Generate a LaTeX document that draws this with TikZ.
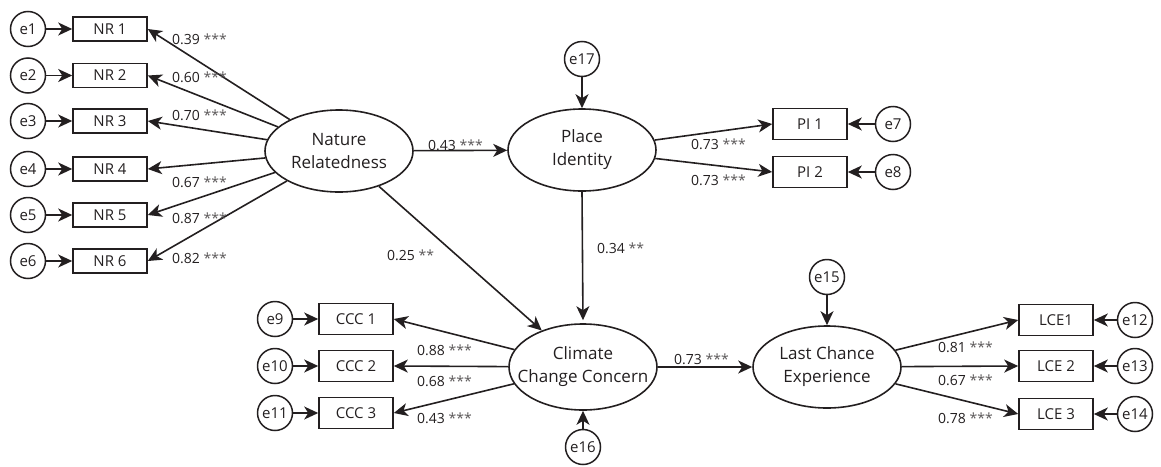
\documentclass[tikz,border=0pt]{standalone}
\usepackage{fontspec}
\setmainfont{Open Sans}
\usetikzlibrary{arrows.meta,shapes.geometric}
\definecolor{ink}{HTML}{231F20}
\tikzset{
  lat/.style={ellipse,draw=ink,line width=1.6pt,minimum width=148pt,minimum height=82pt,inner sep=0pt},
  lattext/.style={align=center,font=\fontsize{17}{23}\selectfont,text=ink},
  obs/.style={rectangle,draw=ink,line width=1.6pt,minimum width=74pt,minimum height=31pt,inner sep=0pt,font=\fontsize{15}{17}\selectfont,text=ink},
  obsnr/.style={obs,minimum height=24pt},
  err/.style={circle,draw=ink,line width=1.5pt,minimum size=35pt,inner sep=0pt,font=\fontsize{15}{17}\selectfont,text=ink},
  arr/.style={draw=ink,line width=1.6pt,-{Stealth[length=14pt,width=13pt,inset=4pt]}},
  coef/.style={anchor=west,inner sep=0pt,font=\fontsize{14}{16}\selectfont,text=ink},
}
\newcommand{\stars}[1]{{\color{ink!75}#1}}
\begin{document}
\begin{tikzpicture}[x=1pt,y=-1pt]
\useasboundingbox (0,0) rectangle (1161,466);
% latent variables
\node[lat,label={[lattext]center:Nature\\Relatedness}] (nr) at (339,151) {};
\node[lat,label={[lattext]center:Place\\Identity}] (pi) at (582,150) {};
\node[lat,minimum height=86pt,label={[lattext]center:Climate\\Change Concern}] (ccc) at (583,367) {};
\node[lat,label={[lattext]center:Last Chance\\Experience}] (lce) at (827,367) {};
% NR indicators
\foreach \i/\y in {1/29,2/75.5,3/121,4/169,5/215,6/261}{
  \node[obsnr] (nr\i) at (110,\y) {NR \i};
  \node[err] (e\i) at (28,\y) {e\i};
  \draw[arr] (e\i) -- (nr\i);
  \draw[arr] (nr) -- (nr\i.east);
}
% PI indicators
\node[obs] (pi1) at (810,124) {PI 1};
\node[obs] (pi2) at (810,172) {PI 2};
\node[err] (e7) at (893,124) {e7};
\node[err] (e8) at (893,172) {e8};
\draw[arr] (e7) -- (pi1);
\draw[arr] (e8) -- (pi2);
\draw[arr] (pi) -- (pi1.west);
\draw[arr] (pi) -- (pi2.west);
% CCC indicators
\node[obs] (ccc1) at (356,319) {CCC 1};
\node[obs] (ccc2) at (356,366) {CCC 2};
\node[obs] (ccc3) at (356,413) {CCC 3};
\node[err] (e9) at (275,319) {e9};
\node[err] (e10) at (275,366) {e10};
\node[err] (e11) at (275,413) {e11};
\draw[arr] (e9) -- (ccc1);
\draw[arr] (e10) -- (ccc2);
\draw[arr] (e11) -- (ccc3);
\draw[arr] (ccc) -- (ccc1.east);
\draw[arr] (ccc) -- (ccc2.east);
\draw[arr] (ccc) -- (ccc3.east);
% LCE indicators
\node[obs] (lce1) at (1056,320) {LCE1};
\node[obs] (lce2) at (1056,366) {LCE 2};
\node[obs] (lce3) at (1056,414) {LCE 3};
\node[err] (e12) at (1135,320) {e12};
\node[err] (e13) at (1135,366) {e13};
\node[err] (e14) at (1135,414) {e14};
\draw[arr] (e12) -- (lce1);
\draw[arr] (e13) -- (lce2);
\draw[arr] (e14) -- (lce3);
\draw[arr] (lce) -- (lce1.west);
\draw[arr] (lce) -- (lce2.west);
\draw[arr] (lce) -- (lce3.west);
% disturbances
\node[err] (e17) at (582,59) {e17};
\node[err] (e16) at (583,447) {e16};
\node[err] (e15) at (827,277) {e15};
\draw[arr] (e17) -- (pi);
\draw[arr] (e16) -- (ccc);
\draw[arr] (e15) -- (lce);
% structural paths
\draw[arr] (nr) -- (pi);
\draw[arr] (nr) -- (ccc);
\draw[arr,shorten >=3pt] (pi.south) -- (ccc.north);
\draw[arr] (ccc) -- (lce);
% coefficients
\node[coef] (c1) at (172,39) {0.39 \stars{***}};
\node[coef] (c2) at (172,77) {0.60 \stars{***}};
\node[coef] (c3) at (172,115) {0.70 \stars{***}};
\node[coef] (c4) at (172,182) {0.67 \stars{***}};
\node[coef] (c5) at (172,218) {0.87 \stars{***}};
\node[coef] (c6) at (172,258) {0.82 \stars{***}};
\node[coef] (c7) at (428,145) {0.43 \stars{***}};
\node[coef] (c8) at (691,144) {0.73 \stars{***}};
\node[coef] (c9) at (691,180) {0.73 \stars{***}};
\node[coef] (c10) at (387,255) {0.25 \stars{**}};
\node[coef] (c11) at (597,248) {0.34 \stars{**}};
\node[coef] (c12) at (417,350) {0.88 \stars{***}};
\node[coef] (c13) at (417,381) {0.68 \stars{***}};
\node[coef] (c14) at (417,418) {0.43 \stars{***}};
\node[coef] (c15) at (674,359) {0.73 \stars{***}};
\node[coef] (c16) at (938,347) {0.81 \stars{***}};
\node[coef] (c17) at (938,380) {0.67 \stars{***}};
\node[coef] (c18) at (938,418) {0.78 \stars{***}};
\end{tikzpicture}
\end{document}
